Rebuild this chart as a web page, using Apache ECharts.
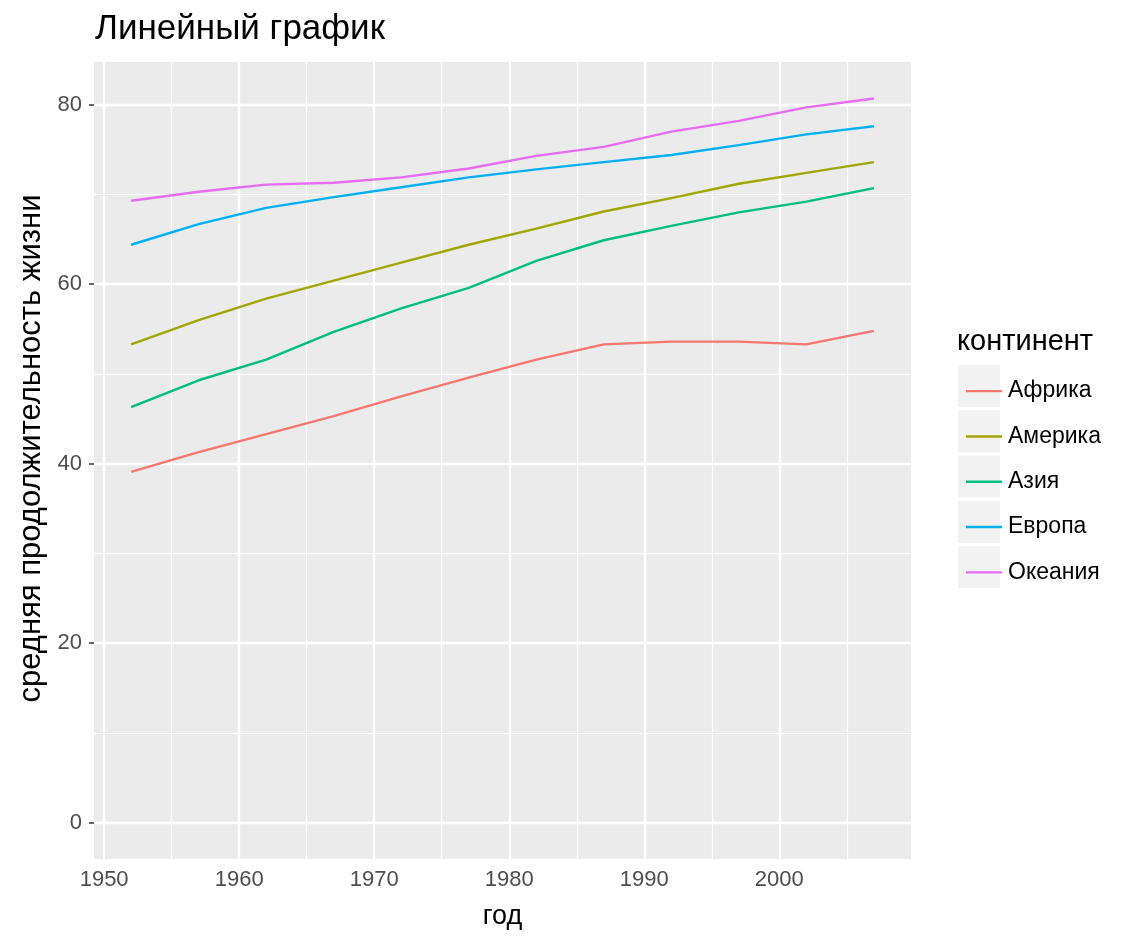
<!DOCTYPE html>
<html lang="ru">
<head>
    <meta charset="UTF-8">
    <title>Линейный график</title>
    <script src="https://cdn.jsdelivr.net/npm/echarts@6/dist/echarts.min.js"></script>
    <style>
        html, body { margin: 0; padding: 0; background: #fff; }
        #main { width: 1133px; height: 944px; }
    </style>
</head>
<body>
<div id="main"></div>
<script>
    // данные: средняя продолжительность жизни по континентам
    var years = [1952, 1957, 1962, 1967, 1972, 1977, 1982, 1987, 1992, 1997, 2002, 2007];
    var continents = ['Африка', 'Америка', 'Азия', 'Европа', 'Океания'];
    var africa  = [39.1, 41.3, 43.3, 45.3, 47.5, 49.6, 51.6, 53.3, 53.6, 53.6, 53.3, 54.8];
    var america = [53.3, 56.0, 58.4, 60.4, 62.4, 64.4, 66.2, 68.1, 69.6, 71.2, 72.4, 73.6];
    var asia    = [46.3, 49.3, 51.6, 54.7, 57.3, 59.6, 62.6, 64.9, 66.5, 68.0, 69.2, 70.7];
    var europe  = [64.4, 66.7, 68.5, 69.7, 70.8, 71.9, 72.8, 73.6, 74.4, 75.5, 76.7, 77.6];
    var oceania = [69.3, 70.3, 71.1, 71.3, 71.9, 72.9, 74.3, 75.3, 77.0, 78.2, 79.7, 80.7];
    var values = [africa, america, asia, europe, oceania];
    var colors = ['#F8766D', '#A3A500', '#00BF7D', '#00B0F6', '#E76BF3'];

    var xTicks = [1950, 1960, 1970, 1980, 1990, 2000];
    var xMinor = [1955, 1965, 1975, 1985, 1995, 2005];
    var yTicks = [0, 20, 40, 60, 80];
    var yMinor = [10, 30, 50, 70];

    var font = "'Liberation Sans', Arial, sans-serif";

    // сетка как в ggplot: белые линии на сером фоне
    var gridLines = [];
    xTicks.forEach(function (v) { gridLines.push({ xAxis: v }); });
    yTicks.forEach(function (v) { gridLines.push({ yAxis: v }); });
    xMinor.forEach(function (v) { gridLines.push({ xAxis: v, lineStyle: { width: 1.2 } }); });
    yMinor.forEach(function (v) { gridLines.push({ yAxis: v, lineStyle: { width: 1.2 } }); });

    var series = [{
        name: 'grid',
        type: 'line',
        data: [],
        silent: true,
        z: 1,
        markLine: {
            silent: true,
            animation: false,
            symbol: ['none', 'none'],
            label: { show: false },
            z: 1,
            lineStyle: { color: '#FFFFFF', type: 'solid', width: 2.3 },
            data: gridLines
        }
    }];
    continents.forEach(function (name, i) {
        series.push({
            name: name,
            type: 'line',
            z: 3,
            symbol: 'none',
            color: colors[i],
            lineStyle: { width: 2.4, color: colors[i] },
            data: years.map(function (y, j) { return [y, values[i][j]]; })
        });
    });

    // серые подложки ключей легенды
    var keyBoxes = continents.map(function (name, i) {
        return {
            type: 'rect',
            left: 958,
            top: 365 + i * 45.3,
            shape: { width: 42, height: 42 },
            style: { fill: '#F2F2F2' },
            z: -1
        };
    });

    var chart = echarts.init(document.getElementById('main'));
    chart.setOption({
        animation: false,
        textStyle: { fontFamily: font },
        title: {
            text: 'Линейный график',
            left: 90,
            top: 7,
            textStyle: { fontSize: 35, fontWeight: 'normal', color: '#000', fontFamily: font }
        },
        grid: {
            left: 94, top: 62, width: 817, height: 797,
            show: true, backgroundColor: '#EBEBEB', borderWidth: 0
        },
        legend: {
            data: continents,
            orient: 'vertical',
            left: 961,
            top: 363.5,
            icon: 'rect',
            itemWidth: 36,
            itemHeight: 2.4,
            itemGap: 0,
            textStyle: { fontSize: 23, lineHeight: 45.3, color: '#000', padding: [0, 0, 0, 1], fontFamily: font }
        },
        graphic: keyBoxes.concat([{
            type: 'text',
            left: 957,
            top: 327,
            style: { text: 'континент', fontSize: 29, fill: '#000', fontFamily: font }
        }]),
        xAxis: {
            type: 'value',
            min: 1949.25,
            max: 2009.75,
            name: 'год',
            nameLocation: 'middle',
            nameGap: 44,
            nameTextStyle: { fontSize: 27, color: '#000', fontFamily: font },
            axisLine: { show: false },
            axisTick: { show: true, customValues: xTicks, length: 5, lineStyle: { color: '#333', width: 1.5 } },
            axisLabel: {
                customValues: xTicks, fontSize: 22, color: '#4D4D4D', margin: 10, fontFamily: font,
                formatter: function (v) { return String(v); }
            },
            splitLine: { show: false }
        },
        yAxis: {
            type: 'value',
            min: -4.04,
            max: 84.76,
            name: 'средняя продолжительность жизни',
            nameLocation: 'middle',
            nameGap: 47,
            nameTextStyle: { fontSize: 31, color: '#000', fontFamily: font, padding: [0, 0, 0, 24] },
            axisLine: { show: false },
            axisTick: { show: true, customValues: yTicks, length: 5, lineStyle: { color: '#333', width: 1.5 } },
            axisLabel: { customValues: yTicks, fontSize: 22, color: '#4D4D4D', margin: 12, fontFamily: font },
            splitLine: { show: false }
        },
        series: series
    });
</script>
</body>
</html>
